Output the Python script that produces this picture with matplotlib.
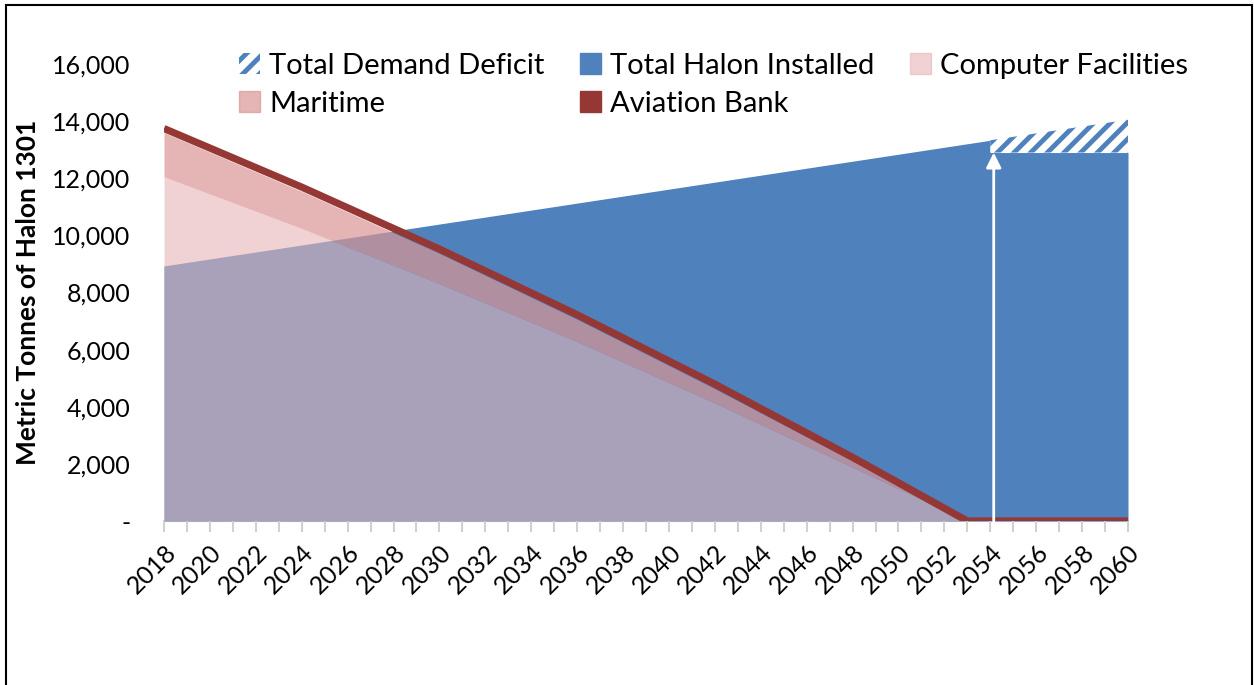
import matplotlib.pyplot as plt
import matplotlib.patches as mpatches
from matplotlib.ticker import MultipleLocator, FuncFormatter

plt.rcParams['font.family'] = ['Lato', 'DejaVu Sans']
plt.rcParams['hatch.linewidth'] = 3.5

# =========================
# DADOS
# =========================

# halon instalado (azul)
anos_instalado = [2018, 2054, 2054, 2060]
halon_instalado = [8930, 13330, 12900, 12900]

# déficit (hachurado)
anos_deficit = [2054, 2060]
deficit_base = [12900, 12900]
deficit_topo = [13330, 14050]

# bancos (empilhados)
anos_banco = [2018, 2024, 2030, 2036, 2042, 2048, 2053, 2060]
computer_facilities = [12050, 10240, 8310, 6280, 4130, 1880, 0, 0]
maritime = [1550, 1300, 1060, 780, 500, 220, 0, 0]
aviation = [140, 150, 150, 160, 160, 130, 0, 0]

ano_seta = 2054.15
topo_seta = 12900

# =========================
# GRÁFICO
# =========================

AZUL = "#4F81BD"
ROSA_CF = "#E6B5B8"
ROSA_MAR = "#D99694"
VERMELHO = "#953735"

fig = plt.figure(figsize=(12.54, 6.85), dpi=100)
ax = fig.add_axes([164/1254, 1-521/685, (1128-164)/1254, (521-64)/685])

ax.fill_between(anos_instalado, 0, halon_instalado, color=AZUL, lw=0, zorder=1)
ax.fill_between(anos_deficit, deficit_base, deficit_topo, facecolor="white",
                edgecolor=AZUL, hatch="//", lw=0, zorder=1)

topo_cf = computer_facilities
topo_mar = [a + b for a, b in zip(computer_facilities, maritime)]
topo_av = [a + b for a, b in zip(topo_mar, aviation)]

ax.fill_between(anos_banco, 0, topo_cf, color=ROSA_CF, alpha=0.6, lw=0, zorder=2)
ax.fill_between(anos_banco, topo_cf, topo_mar, color=ROSA_MAR, alpha=0.7, lw=0, zorder=2)
ax.plot(anos_banco, topo_av, color=VERMELHO, lw=5.2, solid_capstyle="butt", zorder=3)

ax.annotate("", xy=(ano_seta, topo_seta), xytext=(ano_seta, -60),
            arrowprops=dict(arrowstyle="-|>,head_width=0.45,head_length=0.9",
                            color="white", lw=2, shrinkA=0, shrinkB=0),
            zorder=4, annotation_clip=False)

ax.set_xlim(2018, 2060)
ax.set_ylim(0, 16000)

ax.xaxis.set_major_locator(MultipleLocator(2))
ax.xaxis.set_minor_locator(MultipleLocator(1))
ax.yaxis.set_major_locator(MultipleLocator(2000))
ax.yaxis.set_major_formatter(FuncFormatter(lambda v, p: "-" if v == 0 else f"{int(v):,}"))

ax.tick_params(axis="x", which="both", direction="out", length=8, width=1.5,
               color="#D0D0D0", labelsize=18, pad=6)
ax.tick_params(axis="y", length=0, labelsize=18, pad=24)
plt.setp(ax.get_xticklabels(), rotation=45, ha="right", rotation_mode="anchor")

for s in ["top", "right", "left"]:
    ax.spines[s].set_visible(False)
ax.spines["bottom"].set_color("#D0D0D0")
ax.spines["bottom"].set_linewidth(1.5)
ax.spines["bottom"].set_zorder(0)

ax.set_ylabel("Metric Tonnes of Halon 1301", fontsize=19, fontweight="bold")
ax.yaxis.set_label_coords(-(164-40)/964, 0.5)

# legenda
h_def = mpatches.Patch(facecolor="white", edgecolor=AZUL, hatch="//", lw=0)
h_inst = mpatches.Patch(color=AZUL)
h_cf = mpatches.Patch(color=ROSA_CF, alpha=0.6)
h_mar = mpatches.Patch(color=ROSA_MAR, alpha=0.7)
h_av = mpatches.Patch(color=VERMELHO)
handles = [h_def, h_mar, h_inst, h_av, h_cf]
labels = ["Total Demand Deficit", "Maritime", "Total Halon Installed",
          "Aviation Bank", "Computer Facilities"]
fig.legend(handles, labels, ncol=3, loc="upper left", bbox_to_anchor=(224/1254, 1-38/685),
           frameon=False, fontsize=21, handlelength=0.75, handleheight=0.75,
           handletextpad=0.3, columnspacing=1.2, labelspacing=0.42, borderpad=0)

# borda externa
fig.add_artist(mpatches.Rectangle((6/1254, -0.1), (1252-6)/1254, 1.1-5/685,
                                  transform=fig.transFigure, fill=False,
                                  edgecolor="black", lw=1.5))

plt.savefig("out.png", dpi=100)
